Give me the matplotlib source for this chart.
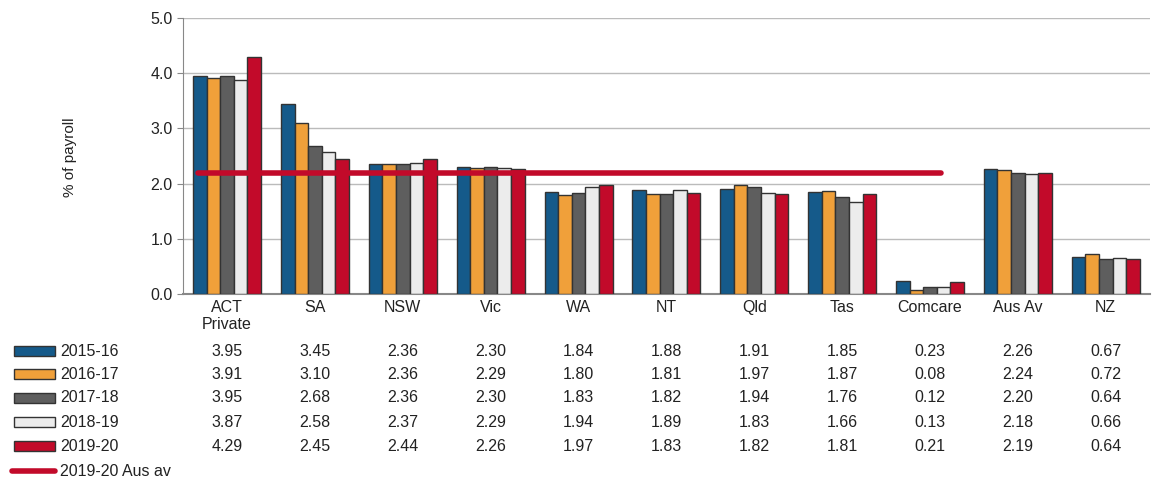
import numpy as np
import matplotlib.pyplot as plt
from matplotlib.patches import Rectangle
from matplotlib.lines import Line2D

categories = ['ACT\nPrivate', 'SA', 'NSW', 'Vic', 'WA', 'NT', 'Qld', 'Tas', 'Comcare', 'Aus Av', 'NZ']
years = ['2015-16', '2016-17', '2017-18', '2018-19', '2019-20']
v1516 = [3.95, 3.45, 2.36, 2.30, 1.84, 1.88, 1.91, 1.85, 0.23, 2.26, 0.67]
v1617 = [3.91, 3.10, 2.36, 2.29, 1.80, 1.81, 1.97, 1.87, 0.08, 2.24, 0.72]
v1718 = [3.95, 2.68, 2.36, 2.30, 1.83, 1.82, 1.94, 1.76, 0.12, 2.20, 0.64]
v1819 = [3.87, 2.58, 2.37, 2.29, 1.94, 1.89, 1.83, 1.66, 0.13, 2.18, 0.66]
v1920 = [4.29, 2.45, 2.44, 2.26, 1.97, 1.83, 1.82, 1.81, 0.21, 2.19, 0.64]
aus_av_1920 = 2.19

series = [v1516, v1617, v1718, v1819, v1920]
colors = ['#155a8a', '#f0a03a', '#5e5e5e', '#ececec', '#c20a2a']
edge = '#333333'

plt.rcParams['font.family'] = ['Liberation Sans', 'DejaVu Sans']

fig = plt.figure(figsize=(11.59, 4.9), dpi=100)
ax = fig.add_axes([0.158, 0.4, 0.834, 0.563])

x = np.arange(len(categories))
w = 0.155
for i, vals in enumerate(series):
    ax.bar(x + (i - 2) * w, vals, w, color=colors[i], edgecolor=edge, linewidth=1.0, zorder=3)

ax.plot([-0.33, 8.12], [aus_av_1920, aus_av_1920], color='#c20a2a', lw=4, solid_capstyle='round', zorder=4)

ax.set_xlim(-0.5, len(categories) - 0.5)
ax.set_ylim(0, 5)
ax.set_yticks(np.arange(0, 5.1, 1))
ax.set_yticklabels(['%.1f' % t for t in np.arange(0, 5.1, 1)], fontsize=11.5, color='#222222')
ax.yaxis.grid(True, color='#bbbbbb', lw=1, zorder=0)
ax.set_xticks(x)
ax.set_xticklabels(categories, fontsize=11.5, color='#222222')
ax.tick_params(axis='x', length=0, pad=4)
ax.tick_params(axis='y', length=4, color='#888888')
for s in ['top', 'right']:
    ax.spines[s].set_visible(False)
ax.spines['left'].set_color('#888888')
ax.spines['bottom'].set_color('#888888')
ax.spines['bottom'].set_linewidth(1.5)
fig.text(0.06, 0.68, '% of payroll', rotation=90, ha='center', va='center', fontsize=11, color='#222222')

# data table below the chart
row_y = [351, 374, 398, 422, 446]
for i, vals in enumerate(series):
    yf = 1 - row_y[i] / 490
    fig.patches.append(Rectangle((14 / 1159, yf - 5 / 490), 41 / 1159, 10 / 490, transform=fig.transFigure,
                                 facecolor=colors[i], edgecolor=edge, lw=1.0))
    fig.text(60 / 1159, yf, years[i], ha='left', va='center', fontsize=11.5, color='#222222')
    for j, v in enumerate(vals):
        xd = ax.transData.transform((j, 0))[0]
        xf = fig.transFigure.inverted().transform((xd, 0))[0]
        fig.text(xf, yf, '%.2f' % v, ha='center', va='center', fontsize=11.5, color='#222222')

yl = 1 - 471 / 490
fig.lines.append(Line2D([12 / 1159, 55 / 1159], [yl, yl], transform=fig.transFigure, color='#c20a2a', lw=4,
                        solid_capstyle='round'))
fig.text(60 / 1159, yl, '2019-20 Aus av', ha='left', va='center', fontsize=11.5, color='#222222')

fig.savefig('out.png', dpi=100)
